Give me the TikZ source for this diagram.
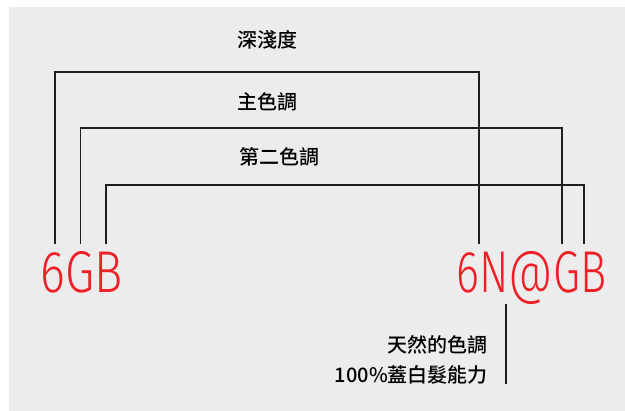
\documentclass[tikz,border=0pt]{standalone}
\usepackage{fontspec}
\IfFontExistsTF{Noto Sans CJK TC Medium}{\newfontfamily\cjk{Noto Sans CJK TC Medium}}{\newfontfamily\cjk{Noto Sans CJK TC}}
\IfFontExistsTF{Fira Sans Light}{\newfontfamily\redfont[FakeStretch=0.8]{Fira Sans Light}}{%
 \IfFontExistsTF{Fira Sans ExtraLight}{\newfontfamily\redfont[FakeStretch=0.8]{Fira Sans ExtraLight}}{%
  \IfFontExistsTF{Lato Light}{\newfontfamily\redfont[FakeStretch=0.82]{Lato Light}}{%
   \IfFontExistsTF{Open Sans Light}{\newfontfamily\redfont[FakeStretch=0.75]{Open Sans Light}}{%
    \IfFontExistsTF{Noto Sans Light}{\newfontfamily\redfont[FakeStretch=0.75]{Noto Sans Light}}{%
     \IfFontExistsTF{DejaVu Sans ExtraLight}{\newfontfamily\redfont[FakeStretch=0.72]{DejaVu Sans ExtraLight}}{%
      \newfontfamily\redfont[FakeStretch=0.77]{Fira Sans}}}}}}}
\definecolor{bg}{RGB}{236,236,236}
\definecolor{redtxt}{RGB}{236,32,38}
\definecolor{linec}{RGB}{30,30,30}
\begin{document}
\begin{tikzpicture}[x=1pt,y=-1pt,
  lbl/.style={inner sep=0pt,font=\cjk\fontsize{20}{24}\selectfont,text=black},
  big/.style={inner sep=0pt,font=\redfont\fontsize{59}{60}\selectfont,text=redtxt},
  conn/.style={draw=linec,line width=1.1pt}]
\useasboundingbox (0,0) rectangle (625,411);
\fill[bg] (9,7) rectangle (625,411);
% labels
\node[lbl] (t1) at (267.5,40) {深淺度};
\node[lbl] (t2) at (267.5,102) {主色調};
\node[lbl] (t3) at (279.5,157) {第二色調};
\node[big,anchor=base west] (left) at (40.5,293) {6GB};
\node[big,anchor=base west] (right) at (456.5,293) {\scalebox{0.925}[1]{6N@GB}};
\node[lbl,anchor=east] (n1) at (488,345) {天然的色調};
\node[lbl,anchor=east] (n2) at (488,374.5) {100\%蓋白髮能力};
% connector coordinates
\coordinate (l1) at (55,244);
\coordinate (l2) at (80.5,244);
\coordinate (l3) at (106,244);
\coordinate (r1) at (479,244);
\coordinate (r2) at (562,244);
\coordinate (r3) at (584,244);
\coordinate (h1) at (0,72);
\coordinate (h2) at (0,128);
\coordinate (h3) at (0,185);
\coordinate (v1) at (506,304);
\coordinate (v2) at (506,384);
\draw[conn] (l1) -- (l1 |- h1) -- (r1 |- h1) -- (r1);
\draw[conn] (l2) -- (l2 |- h2) -- (r2 |- h2) -- (r2);
\draw[conn] (l3) -- (l3 |- h3) -- (r3 |- h3) -- (r3);
\draw[conn] (v1) -- (v2);
\end{tikzpicture}
\end{document}
